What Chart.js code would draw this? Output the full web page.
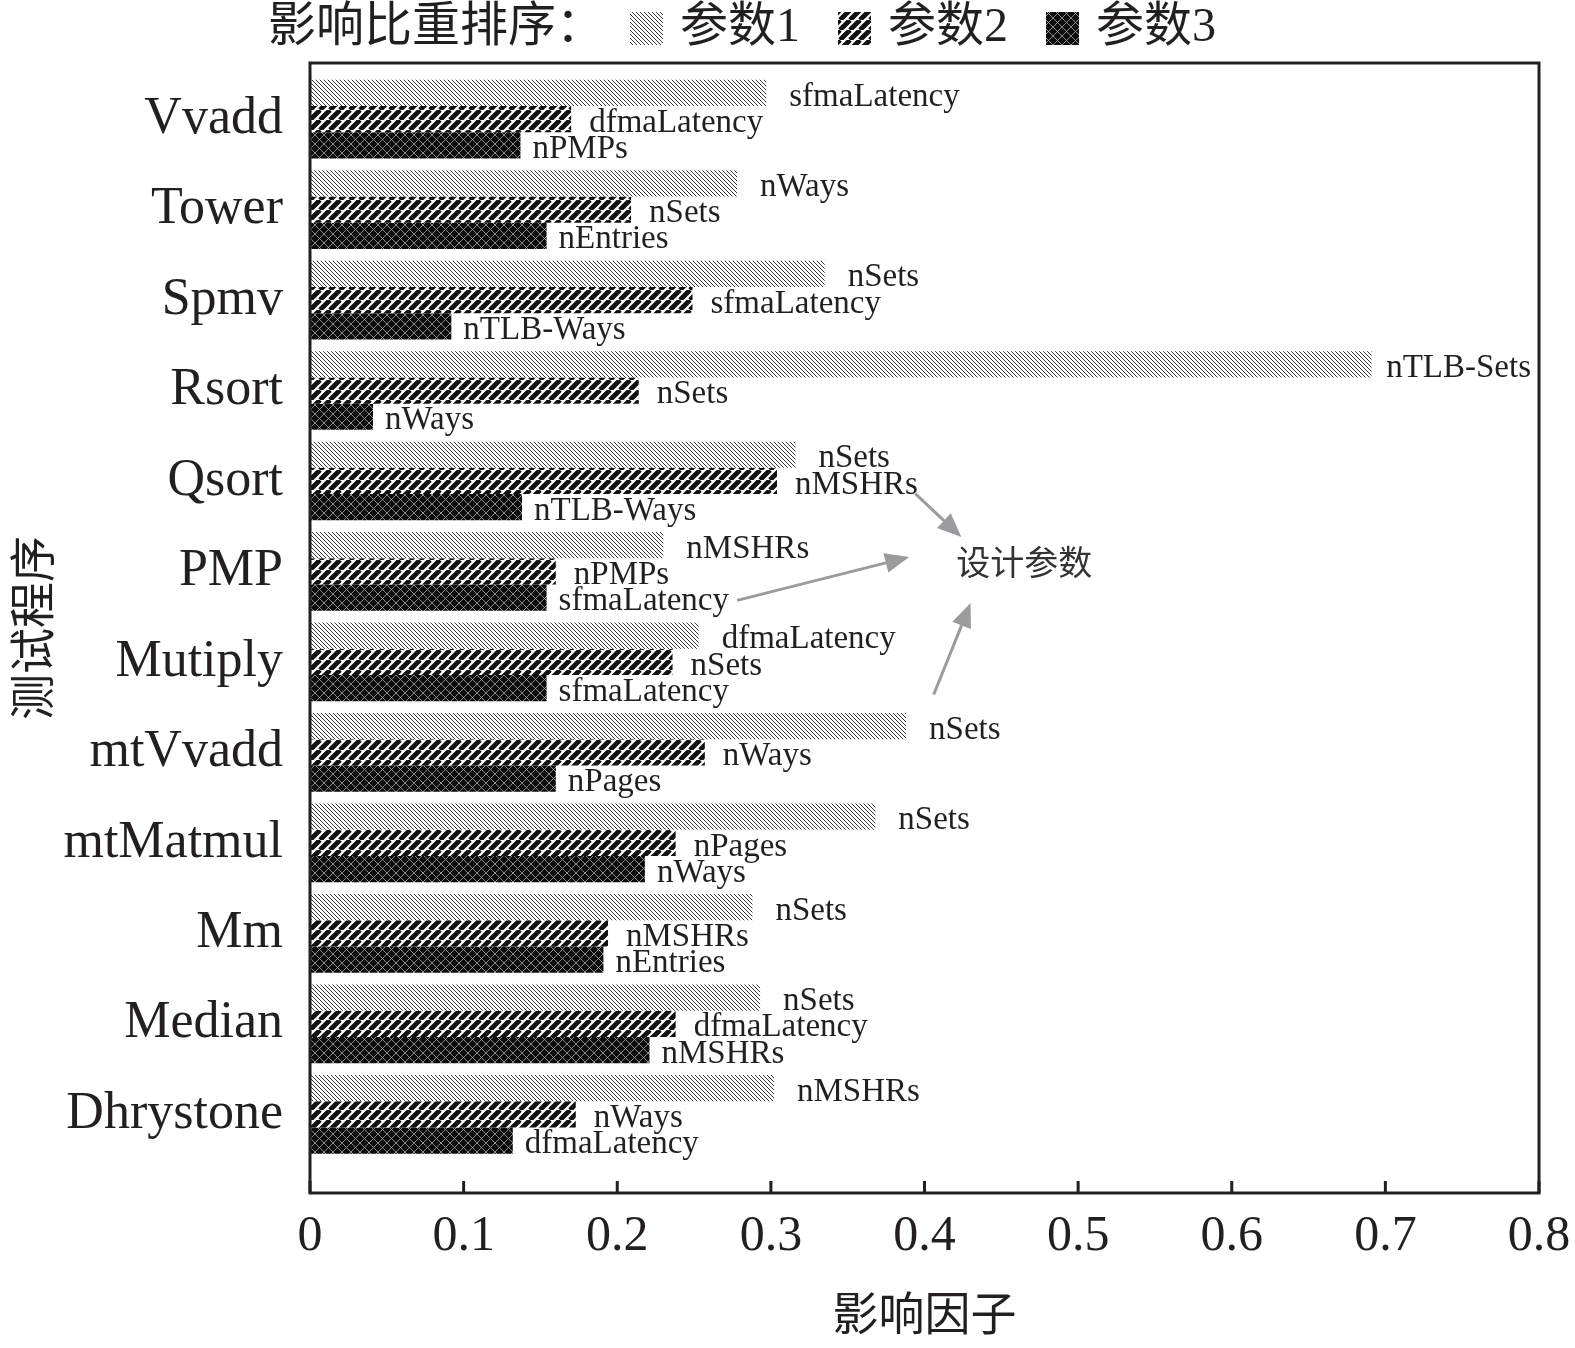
<!DOCTYPE html>
<html>
<head>
<meta charset="utf-8">
<script src="https://cdn.jsdelivr.net/npm/chart.js@4.4.0/dist/chart.umd.min.js"></script>
<style>html,body{margin:0;padding:0;background:#fff}</style>
</head>
<body>
<canvas id="myChart" width="1575" height="1348"></canvas>
<script>
// data
const categories = ['Vvadd', 'Tower', 'Spmv', 'Rsort', 'Qsort', 'PMP', 'Mutiply', 'mtVvadd', 'mtMatmul', 'Mm', 'Median', 'Dhrystone'];
const param1 = [0.297, 0.278, 0.335, 0.691, 0.316, 0.230, 0.253, 0.388, 0.368, 0.288, 0.293, 0.302];
const param2 = [0.170, 0.209, 0.249, 0.214, 0.304, 0.160, 0.236, 0.257, 0.238, 0.194, 0.238, 0.173];
const param3 = [0.137, 0.154, 0.092, 0.041, 0.138, 0.154, 0.154, 0.160, 0.218, 0.191, 0.221, 0.132];
const names1 = ['sfmaLatency', 'nWays', 'nSets', 'nTLB-Sets', 'nSets', 'nMSHRs', 'dfmaLatency', 'nSets', 'nSets', 'nSets', 'nSets', 'nMSHRs'];
const names2 = ['dfmaLatency', 'nSets', 'sfmaLatency', 'nSets', 'nMSHRs', 'nPMPs', 'nSets', 'nWays', 'nPages', 'nMSHRs', 'dfmaLatency', 'nWays'];
const names3 = ['nPMPs', 'nEntries', 'nTLB-Ways', 'nWays', 'nTLB-Ways', 'sfmaLatency', 'sfmaLatency', 'nPages', 'nWays', 'nEntries', 'nMSHRs', 'dfmaLatency'];
const seriesLabels = ['参数1', '参数2', '参数3'];
const xTicks = [0, 0.1, 0.2, 0.3, 0.4, 0.5, 0.6, 0.7, 0.8];

const SERIF = '"Liberation Serif", "Noto Sans CJK SC", serif';
const CJK = '"Noto Sans CJK SC", sans-serif';
const INK = '#231f20';

function makePattern(size, draw) {
    const c = document.createElement('canvas');
    c.width = c.height = size;
    const g = c.getContext('2d');
    draw(g, size);
    return g.createPattern(c, 'repeat');
}

// fine "\" hatch
const pat1 = makePattern(4, (g, s) => {
    g.fillStyle = '#fff';
    g.fillRect(0, 0, s, s);
    g.strokeStyle = '#222';
    g.lineWidth = 0.9;
    g.beginPath();
    for (let k = -1; k <= 1; k++) {
        g.moveTo(k * s, 0);
        g.lineTo(k * s + s, s);
    }
    g.stroke();
});
// thick "/" stripes
const pat2 = makePattern(10, (g, s) => {
    g.fillStyle = '#fff';
    g.fillRect(0, 0, s, s);
    g.strokeStyle = '#111';
    g.lineWidth = 4.8;
    g.beginPath();
    for (let k = -1; k <= 1; k++) {
        g.moveTo(k * s, s);
        g.lineTo(k * s + s, 0);
    }
    g.stroke();
});
// dark lattice
const pat3 = makePattern(9, (g, s) => {
    g.fillStyle = '#0d0d0d';
    g.fillRect(0, 0, s, s);
    g.strokeStyle = '#aaa';
    g.lineWidth = 0.8;
    g.beginPath();
    for (let k = -1; k <= 1; k++) {
        g.moveTo(k * s, 0);
        g.lineTo(k * s + s, s);
        g.moveTo(k * s, s);
        g.lineTo(k * s + s, 0);
    }
    g.stroke();
});
const patterns = [pat1, pat2, pat3];
const labelGap = [23, 18, 12];

const barLabels = {
    id: 'barLabels',
    afterDatasetsDraw(chart) {
        const ctx = chart.ctx;
        const area = chart.chartArea;
        const allNames = [names1, names2, names3];
        ctx.save();
        ctx.font = '33px ' + SERIF;
        ctx.fillStyle = INK;
        ctx.textBaseline = 'middle';
        ctx.textAlign = 'left';
        chart.data.datasets.forEach((ds, d) => {
            chart.getDatasetMeta(d).data.forEach((bar, i) => {
                const txt = allNames[d][i];
                const w = ctx.measureText(txt).width;
                let gap = Math.min(labelGap[d], area.right - 8 - w - bar.x);
                gap = Math.max(gap, 3);
                ctx.fillText(txt, bar.x + gap, bar.y + 4);
            });
        });
        ctx.restore();
    }
};

const frame = {
    id: 'frame',
    afterDatasetsDraw(chart) {
        const ctx = chart.ctx;
        const a = chart.chartArea;
        const x = chart.scales.x;
        ctx.save();
        ctx.strokeStyle = INK;
        ctx.lineWidth = 3;
        ctx.strokeRect(a.left, a.top, a.right - a.left, a.bottom - a.top);
        ctx.beginPath();
        xTicks.forEach(v => {
            const px = x.getPixelForValue(v);
            ctx.moveTo(px, a.bottom);
            ctx.lineTo(px, a.bottom - 12);
        });
        ctx.stroke();
        ctx.restore();
    }
};

function arrow(ctx, x1, y1, x2, y2) {
    const ang = Math.atan2(y2 - y1, x2 - x1);
    const hl = 24, hw = 10;
    const bx = x2 - hl * Math.cos(ang), by = y2 - hl * Math.sin(ang);
    ctx.beginPath();
    ctx.moveTo(x1, y1);
    ctx.lineTo(bx, by);
    ctx.stroke();
    ctx.beginPath();
    ctx.moveTo(x2, y2);
    ctx.lineTo(bx + hw * Math.sin(ang), by - hw * Math.cos(ang));
    ctx.lineTo(bx - hw * Math.sin(ang), by + hw * Math.cos(ang));
    ctx.closePath();
    ctx.fill();
}

// annotation, in data units: [x value, category position]
const noteAt = [0.465, 4.9];
const arrows = [
    [[0.394, 4.14], [0.424, 4.62]],
    [[0.278, 5.32], [0.390, 4.84]],
    [[0.406, 6.36], [0.430, 5.35]]
];

const annotation = {
    id: 'annotation',
    afterDraw(chart) {
        const ctx = chart.ctx;
        const x = chart.scales.x, y = chart.scales.y;
        ctx.save();
        ctx.strokeStyle = '#9a9b9f';
        ctx.fillStyle = '#9a9b9f';
        ctx.lineWidth = 3;
        arrows.forEach(([p, q]) => {
            arrow(ctx, x.getPixelForValue(p[0]), y.getPixelForValue(p[1]),
                x.getPixelForValue(q[0]), y.getPixelForValue(q[1]));
        });
        ctx.fillStyle = '#333';
        ctx.font = '34px ' + CJK;
        ctx.textAlign = 'center';
        ctx.textBaseline = 'middle';
        ctx.fillText('设计参数', x.getPixelForValue(noteAt[0]), y.getPixelForValue(noteAt[1]));
        ctx.restore();
    }
};

const topLegend = {
    id: 'topLegend',
    afterDraw(chart) {
        const ctx = chart.ctx;
        const cy = 28;
        ctx.save();
        ctx.font = '48px ' + SERIF;
        ctx.fillStyle = INK;
        ctx.textBaseline = 'middle';
        ctx.textAlign = 'left';
        let px = 268;
        const title = '影响比重排序：';
        ctx.fillText(title, px, cy);
        px += ctx.measureText(title).width + 26;
        seriesLabels.forEach((lab, i) => {
            ctx.fillStyle = patterns[i];
            ctx.fillRect(px, cy - 16, 33, 33);
            px += 33 + 17;
            ctx.fillStyle = INK;
            ctx.fillText(lab, px, cy);
            px += ctx.measureText(lab).width + 38;
        });
        ctx.restore();
    }
};

const ctx = document.getElementById('myChart').getContext('2d');
const myChart = new Chart(ctx, {
    type: 'bar',
    data: {
        datasets: [param1, param2, param3].map((vals, d) => ({
            label: seriesLabels[d],
            data: vals.map((v, i) => ({ x: v, y: i })),
            backgroundColor: patterns[d],
            borderWidth: 0,
            categoryPercentage: 0.87,
            barPercentage: 1.0
        }))
    },
    options: {
        indexAxis: 'y',
        responsive: false,
        maintainAspectRatio: false,
        animation: false,
        layout: { padding: { top: 63, right: 36, left: 0, bottom: 0 } },
        plugins: {
            legend: { display: false },
            tooltip: { enabled: false }
        },
        scales: {
            x: {
                type: 'linear',
                min: 0,
                max: 0.8,
                afterBuildTicks: s => { s.ticks = xTicks.map(v => ({ value: v })); },
                afterFit: s => { s.height = 155; s.paddingRight = 0; s.paddingLeft = 0; },
                grid: { display: false, drawTicks: false },
                border: { display: false },
                ticks: {
                    padding: 14,
                    color: INK,
                    font: { family: SERIF, size: 50 },
                    callback: v => String(Math.round(v * 10) / 10)
                },
                title: {
                    display: true,
                    text: '影响因子',
                    color: INK,
                    font: { family: CJK, size: 46 },
                    padding: { top: 0, bottom: 8 }
                }
            },
            y: {
                type: 'linear',
                reverse: true,
                offset: false,
                min: -0.62,
                max: 11.87,
                afterBuildTicks: s => { s.ticks = categories.map((c, i) => ({ value: i })); },
                afterFit: s => { s.width = 310; },
                grid: { display: false, drawTicks: false },
                border: { display: false },
                ticks: {
                    padding: 27,
                    color: INK,
                    font: { family: SERIF, size: 52 },
                    callback: v => categories[v]
                },
                title: {
                    display: true,
                    text: '测试程序',
                    color: INK,
                    font: { family: CJK, size: 46 },
                    padding: { top: 4, bottom: 0 }
                }
            }
        }
    },
    plugins: [frame, barLabels, annotation, topLegend]
});
</script>
</body>
</html>
